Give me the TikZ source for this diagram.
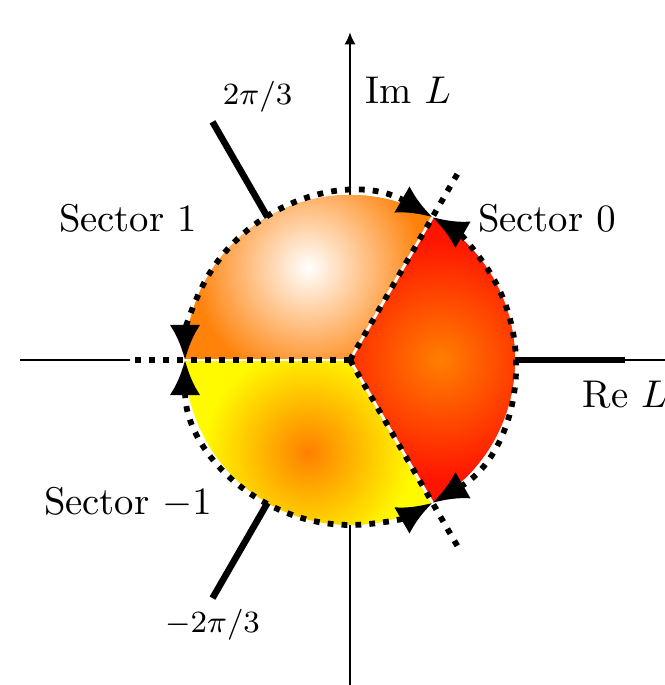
\documentclass[tikz,border=0pt]{standalone}
\usepackage{amsmath,amssymb}
\usetikzlibrary{arrows.meta,calc}

\definecolor{secorange}{RGB}{255,130,10}
\definecolor{secred}{RGB}{255,20,0}
\definecolor{secyellow}{RGB}{255,250,0}

\begin{document}
\begin{tikzpicture}[
  >=Latex,
  % --- axes ---
  axis/.style={line width=0.45pt, draw=black},
  % --- sector boundaries ---
  bound/.style={line width=1.5pt, dash pattern=on 1.5pt off 2.1pt},
  arcarr/.style={bound, {Latex[length=3.2mm, width=2.8mm]}-{Latex[length=3.2mm, width=2.8mm]}},
  gap/.style={draw=white, line width=0.7pt},
  ray/.style={line width=1.7pt},
  % --- labels ---
  lbl/.style={font=\normalsize, inner sep=1pt},
  ang/.style={font=\footnotesize, inner sep=1pt},
]
\useasboundingbox (-3.182,-2.955) rectangle (2.855,3.273);

\def\R{1.5}
\coordinate (O) at (0,0);
\coordinate (p0) at (60:\R);
\coordinate (p1) at (180:\R);
\coordinate (pm) at (-60:\R);
\coordinate (cut1) at (60:2);
\coordinate (cut2) at (180:2);
\coordinate (cut3) at (-60:2);

% ===================== AXES =====================

\coordinate (xl) at (-3.0,0);
\coordinate (xr) at (2.9,0);
\coordinate (yb) at (0,-3.0);
\coordinate (yt) at (0,2.98);
\draw[axis] (xl) -- (cut2);
\draw[axis] (O) -- (xr);
\draw[axis, -{Latex[length=1.1mm, width=1mm]}] (yb) -- (yt);

% ===================== SECTORS =====================

% Sector 1
\begin{scope}
  \clip (O) -- (p0) arc[start angle=60, end angle=180, radius=\R] -- cycle;
  \fill[secorange] (-2,-0.1) rectangle (2,2);
  \shade[inner color=white, outer color=secorange] (-0.38,0.84) circle (1.05);
\end{scope}

% Sector 0
\begin{scope}
  \clip (O) -- (pm) arc[start angle=-60, end angle=60, radius=\R] -- cycle;
  \fill[secred] (-0.1,-2) rectangle (2,2);
  \shade[inner color=orange, outer color=secred] (0.82,0) circle (1.1);
\end{scope}

% Sector -1
\begin{scope}
  \clip (O) -- (p1) arc[start angle=180, end angle=300, radius=\R] -- cycle;
  \fill[secyellow] (-2,-2) rectangle (2,0.1);
  \shade[inner color=orange, outer color=secyellow] (-0.38,-0.84) circle (0.95);
\end{scope}

% white seams between sectors
\draw[gap] (O) -- (p0);
\draw[gap] (O) -- (p1);
\draw[gap] (O) -- (pm);

% ===================== BOUNDARIES =====================

\draw[bound] (O) -- (cut1);
\draw[bound] (O) -- (cut2);
\draw[bound] (O) -- (cut3);

\draw[arcarr] (pm) arc[start angle=-60, end angle=60, radius=\R];
\draw[arcarr] (p0) arc[start angle=60, end angle=180, radius=\R];
\draw[arcarr] (p1) arc[start angle=180, end angle=300, radius=\R];

% branch cuts
\draw[ray] (0:\R) -- (0:2.5);
\draw[ray] (120:\R) -- (120:2.5);
\draw[ray] (-120:\R) -- (-120:2.5);

% ===================== LABELS =====================

\node[lbl, anchor=west] (imL) at (0.1,2.45) {Im $L$};
\node[lbl] (reL) at (2.5,-0.32) {Re $L$};
\node[ang] (up) at (-0.84,2.39) {$2\pi/3$};
\node[ang] (dn) at (-1.25,-2.41) {$-2\pi/3$};

\node[lbl] (sec1) at (-2.02,1.29) {Sector $1$};
\node[lbl] (sec0) at (1.79,1.29) {Sector $0$};
\node[lbl] (secm) at (-2.02,-1.30) {Sector $-1$};

\end{tikzpicture}
\end{document}
